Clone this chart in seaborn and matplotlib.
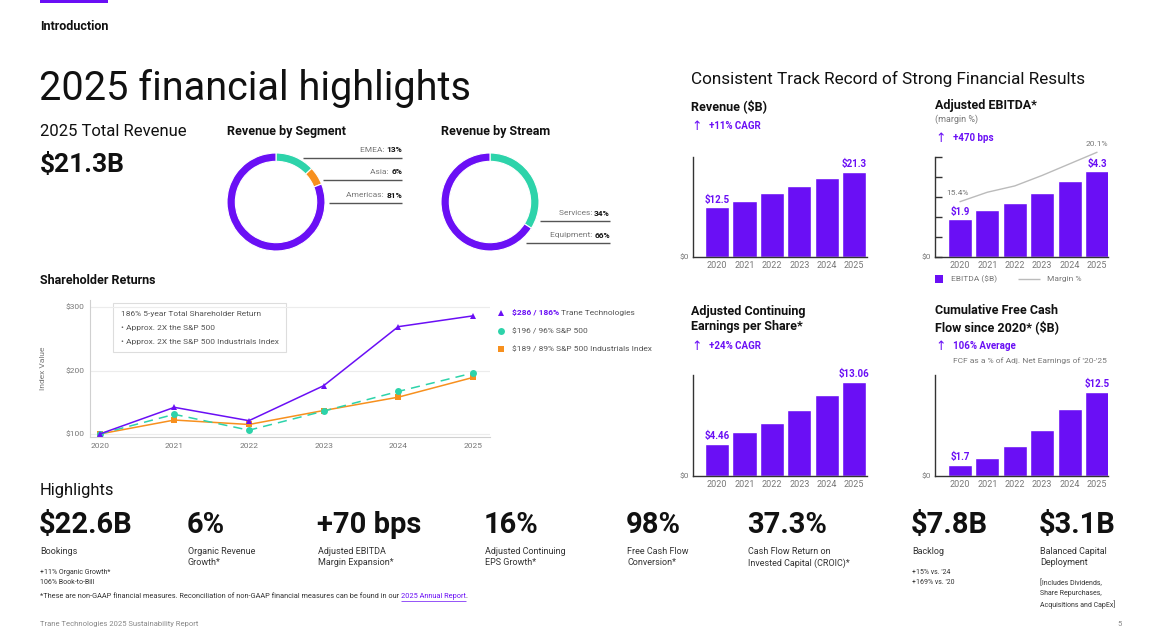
import numpy as np
import pandas as pd
import matplotlib
matplotlib.use("Agg")
import matplotlib.pyplot as plt
import seaborn as sns
from matplotlib.patches import Rectangle

# ---- data ----
years = [2020, 2021, 2022, 2023, 2024, 2025]
year_labels = [str(y) for y in years]

segment_names = ['EMEA', 'Asia', 'Americas']
segment_pct = [13, 6, 81]
stream_names = ['Services', 'Equipment']
stream_pct = [34, 66]

tsr_trane = [100, 142, 121, 176, 269, 286]
tsr_sp500 = [100, 131, 106, 136, 167, 196]
tsr_industrials = [100, 122, 115, 137, 158, 189]
tsr_legend = [('$286 / 186%', 'Trane Technologies'),
              ('', '$196 / 96% S&P 500'),
              ('', '$189 / 89% S&P 500 Industrials Index')]

revenue = [12.5, 14.1, 16.0, 17.7, 19.8, 21.3]
ebitda = [1.9, 2.35, 2.7, 3.2, 3.8, 4.3]
ebitda_margin = [15.4, 16.3, 16.9, 17.9, 19.0, 20.1]
eps = [4.46, 6.1, 7.4, 9.2, 11.2, 13.06]
fcf_cum = [1.7, 2.6, 4.4, 6.9, 9.9, 12.5]

highlight_values = ['$22.6B', '6%', '+70 bps', '16%', '98%', '37.3%', '$7.8B', '$3.1B']
highlight_labels = ['Bookings', 'Organic Revenue\nGrowth*', 'Adjusted EBITDA\nMargin Expansion*',
                    'Adjusted Continuing\nEPS Growth*', 'Free Cash Flow\nConversion*',
                    'Cash Flow Return on\nInvested Capital (CROIC)*', 'Backlog',
                    'Balanced Capital\nDeployment']
highlight_notes = ['+11% Organic Growth*\n106% Book-to-Bill', '', '', '', '', '',
                   "+15% vs. '24\n+169% vs. '20",
                   '[Includes Dividends,\nShare Repurchases,\nAcquisitions and CapEx]']

PURPLE = '#6A0FF5'
TEAL = '#2DD3AA'
ORANGE = '#F7901E'
DARK = '#111111'
GRAY = '#777777'

sns.set_theme(style='white')
plt.rcParams['font.family'] = ['Roboto', 'DejaVu Sans']

W, H = 1153, 637
fig = plt.figure(figsize=(W / 100, H / 100), dpi=100)
fig.patch.set_facecolor('white')

# full-figure canvas in pixel coordinates for texts and rules
cv = fig.add_axes([0, 0, 1, 1])
cv.set_xlim(0, W)
cv.set_ylim(H, 0)
cv.axis('off')
renderer = fig.canvas.get_renderer()


def add_ax(x0, y0, x1, y1):
    a = fig.add_axes([x0 / W, 1 - y1 / H, (x1 - x0) / W, (y1 - y0) / H])
    a.set_facecolor('none')
    return a


def txt(x, y, s, size=8, color=DARK, weight='normal', ha='left', va='center', **kw):
    return cv.text(x, y, s, fontsize=size, color=color, fontweight=weight, ha=ha, va=va, **kw)


def rich(x, y, parts, ha='left'):
    # parts: list of (text, size, color, weight)
    seq = parts if ha == 'left' else parts[::-1]
    cur = x
    for s, size, color, weight in seq:
        t = txt(cur, y, s, size, color, weight, ha=ha)
        w = t.get_window_extent(renderer).width
        cur = cur + w if ha == 'left' else cur - w
    return cur


def hline(x0, x1, y, color='#555555', lw=1.0):
    cv.plot([x0, x1], [y, y], color=color, lw=lw, solid_capstyle='butt')


# ---- header ----
cv.add_patch(Rectangle((40, 0), 68, 3, color=PURPLE, lw=0))
txt(40, 27, 'Introduction', 9, weight='bold')
txt(39, 88, '2025 financial highlights', 28.5)
txt(40, 132, '2025 Total Revenue', 12)
txt(40, 165, '$21.3B', 19, weight='bold')

# ---- donuts ----
txt(227, 131, 'Revenue by Segment', 9, weight='bold')
txt(441, 131, 'Revenue by Stream', 9, weight='bold')

ax = add_ax(227, 153, 325, 251)
ax.pie(segment_pct, colors=[TEAL, ORANGE, PURPLE], startangle=90, counterclock=False,
       wedgeprops=dict(width=0.17, edgecolor='white', linewidth=0.8))
ax.set_xlim(-1, 1)
ax.set_ylim(-1, 1)
for name, pct, yy, xs in zip(segment_names, segment_pct, [150, 172, 195], [303, 323, 329]):
    rich(402, yy, [(name + ': ', 6, GRAY, 'normal'), (f'{pct}%', 6, DARK, 'bold')], ha='right')
    hline(xs, 402, yy + 8)

ax = add_ax(441, 153, 539, 251)
ax.pie(stream_pct, colors=[TEAL, PURPLE], startangle=90, counterclock=False,
       wedgeprops=dict(width=0.17, edgecolor='white', linewidth=0.8))
ax.set_xlim(-1, 1)
ax.set_ylim(-1, 1)
for name, pct, yy, xs in zip(stream_names, stream_pct, [213, 235], [540, 526]):
    rich(610, yy, [(name + ': ', 6, GRAY, 'normal'), (f'{pct}%', 6, DARK, 'bold')], ha='right')
    hline(xs, 610, yy + 8)

# ---- shareholder returns ----
txt(40, 281, 'Shareholder Returns', 9, weight='bold')
ax = add_ax(90, 300, 490, 437)
series = [(tsr_industrials, ORANGE, 's', '-'), (tsr_sp500, TEAL, 'o', (0, (6, 4))),
          (tsr_trane, PURPLE, '^', '-')]
for vals, col, mk, ls in series:
    sns.lineplot(x=years, y=vals, ax=ax, color=col, marker=mk, linestyle=ls, lw=1.1,
                 markersize=5, markeredgewidth=0)
ax.set_xlim(2019.87, 2025.23)
ax.set_ylim(95.3, 311)
ax.set_yticks([100, 200, 300])
ax.set_yticklabels(['$100', '$200', '$300'])
ax.set_xticks(years)
ax.set_xticklabels(year_labels)
ax.tick_params(labelsize=6, labelcolor='#777777', length=0, pad=4)
ax.grid(axis='y', color='#ececec', lw=0.8)
for s in ['top', 'right']:
    ax.spines[s].set_visible(False)
for s in ['left', 'bottom']:
    ax.spines[s].set_color('#d0d0d0')
    ax.spines[s].set_linewidth(0.8)
ax.set_ylabel('Index Value', fontsize=6, color='#777777', labelpad=14)

cv.add_patch(Rectangle((113, 303), 173, 49, facecolor='white', edgecolor='#dddddd', lw=0.8, zorder=3))
txt(121, 314, '186% 5-year Total Shareholder Return', 6, '#555555', zorder=4)
txt(121, 328, '• Approx. 2X the S&P 500', 6, '#555555', zorder=4)
txt(121, 342, '• Approx. 2X the S&P 500 Industrials Index', 6, '#555555', zorder=4)

for (bold_part, rest), col, mk, yy in zip(tsr_legend, [PURPLE, TEAL, ORANGE], ['^', 'o', 's'],
                                          [313, 331, 349]):
    cv.plot([501], [yy], marker=mk, color=col, markersize=5, markeredgewidth=0)
    parts = [(rest, 6, '#555555', 'normal')]
    if bold_part:
        parts = [(bold_part + ' ', 6, PURPLE, 'bold')] + parts
    rich(512, yy, parts)

# ---- right side: track record ----
txt(691, 79, 'Consistent Track Record of Strong Financial Results', 12.3)


def bar_panel(box, values, ymax, nticks, xl, labels, pad):
    a = add_ax(*box)
    df = pd.DataFrame({'year': year_labels, 'value': values})
    sns.barplot(data=df, x='year', y='value', color=PURPLE, saturation=1, width=0.88, ax=a)
    a.set_xlim(*xl)
    a.set_ylim(0, ymax)
    a.set_yticks(np.linspace(0, ymax, nticks + 1))
    a.set_yticklabels(['$0'] + [''] * nticks)
    a.set_xlabel('')
    a.set_ylabel('')
    a.tick_params(axis='y', direction='in', length=5, width=1, color='#333333',
                  labelsize=6, labelcolor='#777777', pad=3)
    a.tick_params(axis='x', length=0, labelsize=6.5, labelcolor='#777777', pad=3)
    for s in ['top', 'right']:
        a.spines[s].set_visible(False)
    for s in ['left', 'bottom']:
        a.spines[s].set_color('#333333')
        a.spines[s].set_linewidth(1)
    a.text(0, values[0] + pad, labels[0], ha='center', va='bottom', color=PURPLE,
           fontsize=7, fontweight='bold')
    a.text(5, values[-1] + pad, labels[1], ha='center', va='bottom', color=PURPLE,
           fontsize=7, fontweight='bold')
    return a


# revenue
txt(691, 106, 'Revenue ($B)', 9, weight='bold')
rich(691, 126, [('↑', 9, PURPLE, 'normal'), ('   +11% CAGR', 7, PURPLE, 'bold')])
bar_panel((693, 157, 867, 257), revenue, 25, 5, (-0.88, 5.47), ['$12.5', '$21.3'], 0.6)

# EBITDA
txt(935, 106, 'Adjusted EBITDA*', 9, weight='bold')
txt(935, 119, '(margin %)', 6.5, '#777777')
rich(935, 138, [('↑', 9, PURPLE, 'normal'), ('   +470 bps', 7, PURPLE, 'bold')])
ax = bar_panel((935, 157, 1108, 257), ebitda, 5, 5, (-0.91, 5.4), ['$1.9', '$4.3'], 0.12)
ax2 = ax.twinx()
sns.lineplot(x=list(range(6)), y=ebitda_margin, ax=ax2, color='#bbbbbb', lw=1, clip_on=False)
ax2.set_ylim(10.14, 19.65)
ax2.axis('off')
ax2.annotate(f'{ebitda_margin[0]}%', (0, ebitda_margin[0]), xytext=(-2, 4), textcoords='offset points',
             ha='center', va='bottom', fontsize=6, color='#777777', annotation_clip=False)
ax2.annotate(f'{ebitda_margin[-1]}%', (5, ebitda_margin[-1]), xytext=(0, 4), textcoords='offset points',
             ha='center', va='bottom', fontsize=6, color='#777777', annotation_clip=False)
ax.set_xlim(-0.91, 5.4)
ax.set_xticks(range(6))
ax.set_xticklabels(year_labels)
cv.add_patch(Rectangle((935, 275), 8, 8, color=PURPLE, lw=0))
txt(951, 279, 'EBITDA ($B)', 6, '#777777')
hline(1018, 1040, 279, '#bbbbbb', 1)
txt(1047, 279, 'Margin %', 6, '#777777')

# EPS
txt(691, 319, 'Adjusted Continuing\nEarnings per Share*', 9, weight='bold', linespacing=1.25)
rich(691, 346, [('↑', 9, PURPLE, 'normal'), ('   +24% CAGR', 7, PURPLE, 'bold')])
bar_panel((693, 375, 867, 476), eps, 14, 7, (-0.88, 5.47), ['$4.46', '$13.06'], 0.35)

# FCF
txt(935, 319, 'Cumulative Free Cash\nFlow since 2020* ($B)', 9, weight='bold', linespacing=1.25)
rich(935, 346, [('↑', 9, PURPLE, 'normal'), ('   106% Average', 7, PURPLE, 'bold')])
txt(953, 361, "FCF as a % of Adj. Net Earnings of '20-'25", 6, '#777777')
bar_panel((935, 375, 1108, 476), fcf_cum, 15, 7, (-0.91, 5.4), ['$1.7', '$12.5'], 0.35)

# ---- highlights ----
txt(40, 491, 'Highlights', 12)
hx = [40, 188, 318, 485, 627, 748, 912, 1040]
for x, v, lab, note in zip(hx, highlight_values, highlight_labels, highlight_notes):
    txt(x - 1, 525, v, 21, weight='bold')
    txt(x, 547, lab, 6.5, '#333333', va='top', linespacing=1.35)
    if note:
        ny = 569 if '\n' not in lab else 579
        txt(x, ny, note, 5, '#333333', va='top', linespacing=1.6)

end = rich(40, 597, [('*These are non-GAAP financial measures. Reconciliation of non-GAAP financial '
                      'measures can be found in our ', 5.3, '#333333', 'normal')])
t = txt(end, 597, '2025 Annual Report', 5.3, PURPLE)
wlink = t.get_window_extent(renderer).width
hline(end, end + wlink, 601, PURPLE, 0.5)
txt(end + wlink, 597, '.', 5.3, '#333333')

txt(40, 624, 'Trane Technologies 2025 Sustainability Report', 5.5, '#888888')
txt(1117, 624, '5', 5.5, '#888888')

fig.savefig('out.png', dpi=100, facecolor='white')
